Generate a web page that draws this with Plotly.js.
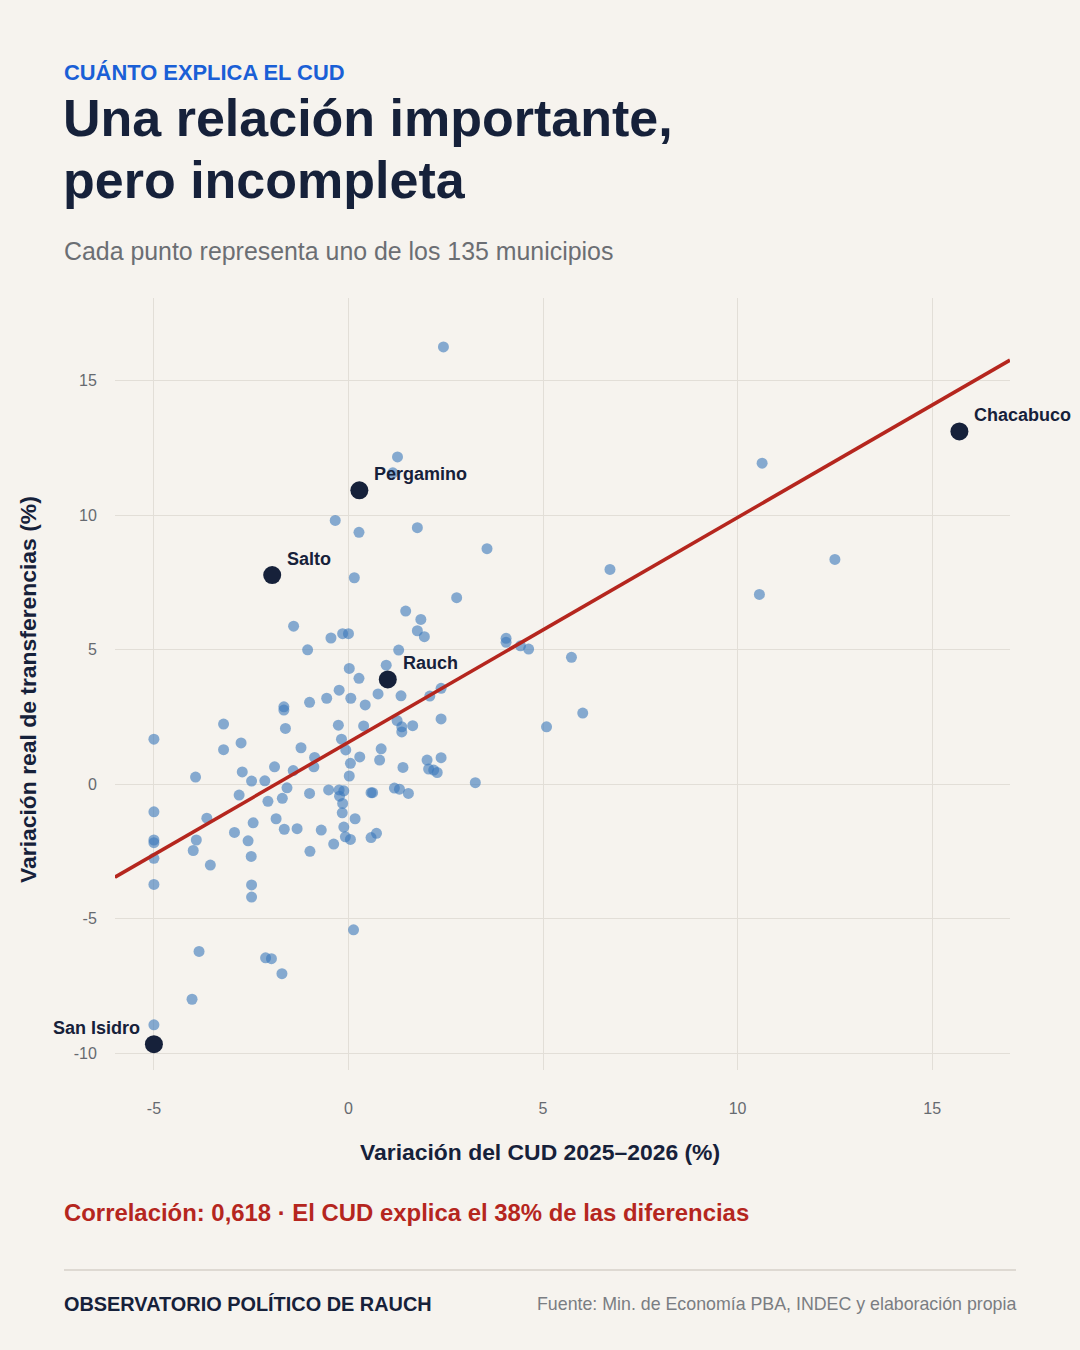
<!DOCTYPE html>
<html>
<head>
<meta charset="utf-8">
<script src="https://cdn.plot.ly/plotly-3.0.1.min.js"></script>
<style>
  html, body { margin: 0; padding: 0; background: #f6f3ee; }
  #chart { width: 1080px; height: 1350px; }
</style>
</head>
<body>
<div id="chart"></div>
<script>
// ---- Data ----
const cudVar = [
  2.44, 1.26, 1.14, -0.34, 0.27, 1.77, 3.56, 0.15, 10.63, 12.50,
  10.56, 6.72, 2.78, 1.47, 1.86, 1.77, 1.95, -1.41, -0.45, -0.15,
  0.00, -1.05, 1.29, 4.05, 4.05, 4.42, 4.63, 5.73, 0.02, 0.97,
  0.27, -0.24, 0.76, 1.35, 2.09, 2.38, -0.56, 0.06, -1.00, 0.43,
  -1.66, -1.66, -1.62, -0.26, 0.39, 1.25, 1.37, 1.37, 1.65, 2.38,
  -0.18, -0.07, -1.22, -0.87, -0.89, 0.29, 0.05, 0.84, 0.80, 1.40,
  2.02, 2.38, 2.06, 2.19, 2.28, 3.26, -1.90, -1.42, 0.02, -2.49,
  -2.15, -1.58, -1.00, -0.51, -0.24, -0.12, -0.23, 0.58, 0.62, 1.18,
  1.31, 1.54, -1.70, -2.07, -0.15, -0.16, 0.17, -0.12, -0.08, 0.05,
  0.72, 0.58, -3.21, -2.76, -3.21, -3.93, -2.73, -2.81, -3.64, -2.45,
  -1.86, -1.65, -1.32, -0.70, -2.93, -3.91, -3.99, -2.58, -2.50, -3.55,
  -0.99, -0.38, -5.00, -5.00, -5.00, -5.00, -5.00, -5.00, -2.49, -2.49,
  0.13, -3.84, -2.13, -1.98, -1.71, -4.02, -5.00, 5.09, 6.02
];
const transfVar = [
  16.25, 12.16, 11.57, 9.80, 9.36, 9.53, 8.75, 7.67, 11.93, 8.35,
  7.05, 7.98, 6.93, 6.43, 6.12, 5.70, 5.48, 5.87, 5.43, 5.59,
  5.59, 4.99, 4.98, 5.42, 5.27, 5.14, 5.02, 4.71, 4.30, 4.42,
  3.93, 3.49, 3.35, 3.28, 3.27, 3.56, 3.19, 3.19, 3.04, 2.94,
  2.87, 2.75, 2.07, 2.19, 2.16, 2.36, 2.13, 1.94, 2.17, 2.42,
  1.67, 1.27, 1.35, 0.99, 0.64, 1.01, 0.77, 1.31, 0.89, 0.62,
  0.89, 0.98, 0.56, 0.52, 0.43, 0.05, 0.64, 0.50, 0.30, 0.11,
  0.12, -0.14, -0.35, -0.22, -0.22, -0.25, -0.45, -0.32, -0.32, -0.15,
  -0.19, -0.35, -0.53, -0.64, -0.72, -1.07, -1.29, -1.60, -1.96, -2.06,
  -1.83, -1.99, 2.23, 1.53, 1.28, 0.26, 0.45, -0.41, -1.27, -1.44,
  -1.29, -1.68, -1.66, -1.71, -1.80, -2.08, -2.47, -2.11, -2.69, -3.01,
  -2.50, -2.23, 1.67, -1.03, -2.08, -2.18, -2.76, -3.73, -3.75, -4.20,
  -5.42, -6.22, -6.46, -6.49, -7.05, -8.00, -8.95, 2.13, 2.64
];

const highlightNames = ["Chacabuco", "Pergamino", "Salto", "Rauch", "San Isidro"];
const highlightCud   = [15.70, 0.28, -1.96, 1.01, -5.00];
const highlightTrans = [13.11, 10.92, 7.77, 3.89, -9.67];

const trendX = [-6, 17];
const trendY = [-3.46, 15.76];

const xTickVals = [-5, 0, 5, 10, 15];
const xTickText = ["-5", "0", "5", "10", "15"];
const yTickVals = [-10, -5, 0, 5, 10, 15];
const yTickText = ["-10", "-5", "0", "5", "10", "15"];

// ---- Layout helpers ----
const W = 1080, H = 1350;
const M = { l: 115, r: 70, t: 298, b: 280 };
const PW = W - M.l - M.r, PH = H - M.t - M.b;
const px = x => (x - M.l) / PW;
const py = y => (H - M.b - y) / PH;

const NAVY = "#16213a";
const BG = "#f6f3ee";
const FONT = "Liberation Sans, Arial, Helvetica, sans-serif";

const traces = [
  {
    type: "scatter", mode: "markers",
    x: cudVar, y: transfVar,
    marker: { size: 11, color: "rgb(59,120,186)", opacity: 0.6, line: { width: 0 } },
    hoverinfo: "skip", showlegend: false
  },
  {
    type: "scatter", mode: "lines",
    x: trendX, y: trendY,
    line: { color: "#b5261e", width: 3.5 },
    hoverinfo: "skip", showlegend: false
  },
  {
    type: "scatter", mode: "markers",
    x: highlightCud, y: highlightTrans,
    marker: { size: 18, color: NAVY, line: { width: 0 } },
    hoverinfo: "skip", showlegend: false
  }
];

const annotations = [];
highlightNames.forEach((name, i) => {
  const left = highlightCud[i] <= -4;
  annotations.push({
    x: highlightCud[i], y: highlightTrans[i], xref: "x", yref: "y",
    text: name, showarrow: false,
    xanchor: left ? "right" : "left", yanchor: "middle",
    xshift: left ? -14 : 15, yshift: 16,
    borderpad: 0, borderwidth: 0,
    font: { family: FONT, size: 18, color: NAVY, weight: 700 }
  });
});

function paperText(text, xPix, yPix, size, color, bold, anchor, extra) {
  return Object.assign({
    text: text, xref: "paper", yref: "paper",
    x: px(xPix), y: py(yPix), showarrow: false,
    xanchor: anchor || "left", yanchor: "middle",
    borderpad: 0, borderwidth: 0,
    font: { family: FONT, size: size, color: color, weight: bold ? 700 : 400 }
  }, extra || {});
}

annotations.push(paperText("CUÁNTO EXPLICA EL CUD", 64, 72, 21.9, "#1a5fd6", true));
annotations.push(paperText("Una relación importante,", 63, 118, 52, NAVY, true));
annotations.push(paperText("pero incompleta", 63, 180, 52, NAVY, true));
annotations.push(paperText("Cada punto representa uno de los 135 municipios", 64, 251, 24.9, "#6b6e73", false));
annotations.push(paperText("Variación del CUD 2025–2026 (%)", 540, 1152, 22.9, NAVY, true, "center"));
annotations.push(paperText("Variación real de transferencias (%)", 28, 690, 22.9, NAVY, true, "center", { textangle: -90 }));
annotations.push(paperText("Correlación: 0,618 · El CUD explica el 38% de las diferencias", 64, 1212, 23.9, "#b5261e", true));
annotations.push(paperText("OBSERVATORIO POLÍTICO DE RAUCH", 64, 1304, 19.9, NAVY, true));
annotations.push(paperText("Fuente: Min. de Economía PBA, INDEC y elaboración propia", 1016, 1304, 17.8, "#7a7d82", false, "right"));

const layout = {
  width: W, height: H,
  margin: M,
  paper_bgcolor: BG, plot_bgcolor: BG,
  font: { family: FONT, color: "#666" },
  showlegend: false,
  xaxis: {
    range: [-6, 17],
    tickvals: xTickVals, ticktext: xTickText,
    showgrid: true, gridcolor: "#e2ded7", gridwidth: 1,
    zeroline: false, showline: false,
    ticks: "outside", ticklen: 24, tickcolor: "rgba(0,0,0,0)",
    tickfont: { family: FONT, size: 16, color: "#666a70" }
  },
  yaxis: {
    range: [-10.63, 18.07],
    tickvals: yTickVals, ticktext: yTickText,
    showgrid: true, gridcolor: "#e2ded7", gridwidth: 1,
    zeroline: false, showline: false,
    ticks: "outside", ticklen: 14, tickcolor: "rgba(0,0,0,0)",
    tickfont: { family: FONT, size: 16, color: "#666a70" }
  },
  shapes: [{
    type: "line", xref: "paper", yref: "paper",
    x0: px(64), x1: px(1016), y0: py(1270), y1: py(1270),
    line: { color: "#d6d1c9", width: 1.5 }
  }],
  annotations: annotations
};

Plotly.newPlot("chart", traces, layout, { displayModeBar: false, staticPlot: true });
</script>
</body>
</html>
